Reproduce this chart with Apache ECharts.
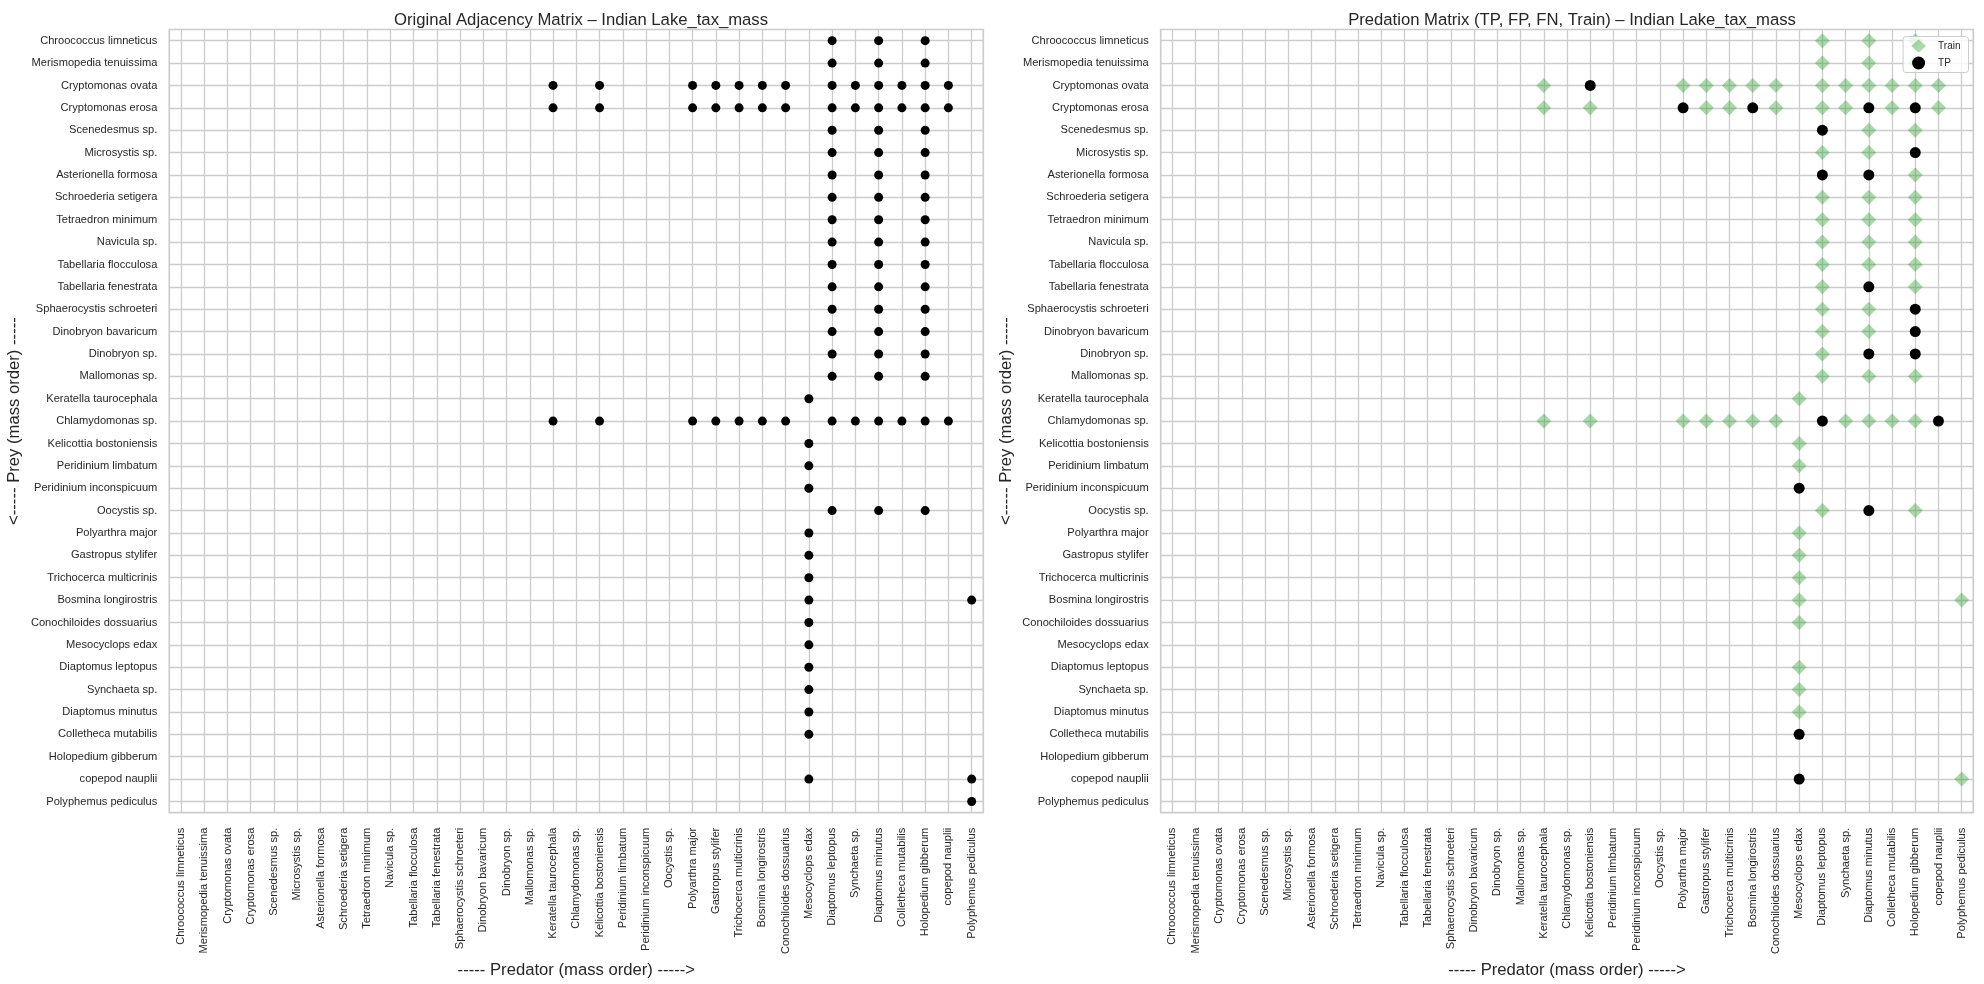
<!DOCTYPE html>
<html>
<head>
<meta charset="utf-8">
<script src="https://cdn.jsdelivr.net/npm/echarts@6/dist/echarts.min.js"></script>
<style>
html,body{margin:0;padding:0;background:#fff;}
#chart{width:1984px;height:984px;}
</style>
</head>
<body>
<div id="chart"></div>
<script>
// Species in mass order (used for both prey rows and predator columns)
const species = [
  "Chroococcus limneticus","Merismopedia tenuissima","Cryptomonas ovata","Cryptomonas erosa",
  "Scenedesmus sp.","Microsystis sp.","Asterionella formosa","Schroederia setigera",
  "Tetraedron minimum","Navicula sp.","Tabellaria flocculosa","Tabellaria fenestrata",
  "Sphaerocystis schroeteri","Dinobryon bavaricum","Dinobryon sp.","Mallomonas sp.",
  "Keratella taurocephala","Chlamydomonas sp.","Kelicottia bostoniensis","Peridinium limbatum",
  "Peridinium inconspicuum","Oocystis sp.","Polyarthra major","Gastropus stylifer",
  "Trichocerca multicrinis","Bosmina longirostris","Conochiloides dossuarius","Mesocyclops edax",
  "Diaptomus leptopus","Synchaeta sp.","Diaptomus minutus","Colletheca mutabilis",
  "Holopedium gibberum","copepod nauplii","Polyphemus pediculus"
];

// Original adjacency: for each prey row (index), the predator column indices
const originalLinks = [
  [28,30,32],[28,30,32],
  [16,18,22,23,24,25,26,28,29,30,31,32,33],
  [16,18,22,23,24,25,26,28,29,30,31,32,33],
  [28,30,32],[28,30,32],[28,30,32],[28,30,32],[28,30,32],[28,30,32],
  [28,30,32],[28,30,32],[28,30,32],[28,30,32],[28,30,32],[28,30,32],
  [27],
  [16,18,22,23,24,25,26,28,29,30,31,32,33],
  [27],[27],[27],
  [28,30,32],
  [27],[27],[27],
  [27,34],
  [27],[27],[27],[27],[27],[27],
  [],
  [27,34],
  [34]
];

// Predation matrix: training links per prey row
const trainLinks = [
  [28,30,32],[28,30,32],
  [16,22,23,24,25,26,28,29,30,31,32,33],
  [16,18,23,24,26,28,29,31,33],
  [30,32],[28,30],[32],[28,30,32],[28,30,32],[28,30,32],
  [28,30,32],[28,32],[28,30],[28,30],[28],[28,30,32],
  [27],
  [16,18,22,23,24,25,26,29,30,31,32],
  [27],[27],[],
  [28,32],
  [27],[27],[27],
  [27,34],
  [27],[],[27],[27],[27],[],
  [],
  [34],
  []
];

// Predation matrix: true positive links per prey row
const tpLinks = [
  [],[],
  [18],
  [22,25,30,32],
  [28],[32],[28,30],[],[],[],
  [],[30],[32],[32],[30,32],[],
  [],
  [28,33],
  [],[],[27],
  [30],
  [],[],[],
  [],
  [],[],[],[],[],[27],
  [],
  [27],
  []
];

function toPoints(links) {
  const pts = [];
  links.forEach((preds, prey) => {
    preds.forEach(pred => pts.push([species[pred], species[prey]]));
  });
  return pts;
}

const FONT = "'Liberation Sans', Arial, sans-serif";
const TXT = '#262626';
const GRIDTOP = 29.5, GRIDH = 784;

function xAxisFor(gi) {
  return {
    type: 'category', gridIndex: gi, data: species, boundaryGap: true,
    name: '----- Predator (mass order) ----->', nameLocation: 'middle', nameGap: 144,
    nameTextStyle: {fontFamily: FONT, fontSize: 16.67, color: TXT},
    axisLine: {show: false}, axisTick: {show: false},
    axisLabel: {interval: 0, rotate: 90, margin: 15, fontFamily: FONT, fontSize: 11.1, color: TXT},
    splitLine: {show: true, interval: 0, alignWithLabel: true, lineStyle: {color: '#cccccc', width: 1.3}}
  };
}
function yAxisFor(gi) {
  return {
    type: 'category', gridIndex: gi, data: species, inverse: true, boundaryGap: true,
    name: '<----- Prey (mass order) -----', nameLocation: 'middle', nameGap: 146, nameRotate: 90,
    nameTextStyle: {fontFamily: FONT, fontSize: 16.67, color: TXT},
    axisLine: {show: false}, axisTick: {show: false},
    axisLabel: {interval: 0, margin: 12, fontFamily: FONT, fontSize: 11.1, color: TXT},
    splitLine: {show: true, interval: 0, alignWithLabel: true, lineStyle: {color: '#cccccc', width: 1.3}}
  };
}

const chart = echarts.init(document.getElementById('chart'), null, {renderer: 'canvas'});
chart.setOption({
  backgroundColor: '#ffffff',
  animation: false,
  textStyle: {fontFamily: FONT},
  title: [
    {text: 'Original Adjacency Matrix – Indian Lake_tax_mass', left: 576, top: 7, textAlign: 'center',
     textStyle: {fontFamily: FONT, fontSize: 16.67, fontWeight: 'normal', color: TXT}},
    {text: 'Predation Matrix (TP, FP, FN, Train) – Indian Lake_tax_mass', left: 1567, top: 7, textAlign: 'center',
     textStyle: {fontFamily: FONT, fontSize: 16.67, fontWeight: 'normal', color: TXT}}
  ],
  legend: {
    data: [{name: 'Train', icon: 'diamond'}, {name: 'TP', icon: 'circle'}],
    orient: 'vertical', right: 15.5, top: 36.5,
    itemWidth: 15, itemHeight: 13, itemGap: 4,
    padding: [3, 8, 3, 8],
    backgroundColor: 'rgba(255,255,255,0.8)', borderColor: '#cccccc', borderWidth: 1, borderRadius: 3,
    textStyle: {fontFamily: FONT, fontSize: 10, color: TXT, padding: [0, 0, 0, 7]}
  },
  grid: [
    {left: 169.3, top: GRIDTOP, width: 814, height: GRIDH, show: true, borderColor: '#cccccc', borderWidth: 1.7, backgroundColor: 'transparent'},
    {left: 1160.7, top: GRIDTOP, width: 812.6, height: GRIDH, show: true, borderColor: '#cccccc', borderWidth: 1.7, backgroundColor: 'transparent'}
  ],
  xAxis: [xAxisFor(0), xAxisFor(1)],
  yAxis: [yAxisFor(0), yAxisFor(1)],
  series: [
    {name: 'Adjacency', type: 'scatter', xAxisIndex: 0, yAxisIndex: 0, symbol: 'circle', symbolSize: 9,
     itemStyle: {color: '#000000', opacity: 1}, data: toPoints(originalLinks), z: 3},
    {name: 'Train', type: 'scatter', xAxisIndex: 1, yAxisIndex: 1, symbol: 'diamond', symbolSize: 15,
     itemStyle: {color: 'rgba(44,160,44,0.4)', opacity: 1}, data: toPoints(trainLinks), z: 3},
    {name: 'TP', type: 'scatter', xAxisIndex: 1, yAxisIndex: 1, symbol: 'circle', symbolSize: 11,
     itemStyle: {color: '#000000', opacity: 1}, data: toPoints(tpLinks), z: 4}
  ]
});
</script>
</body>
</html>
